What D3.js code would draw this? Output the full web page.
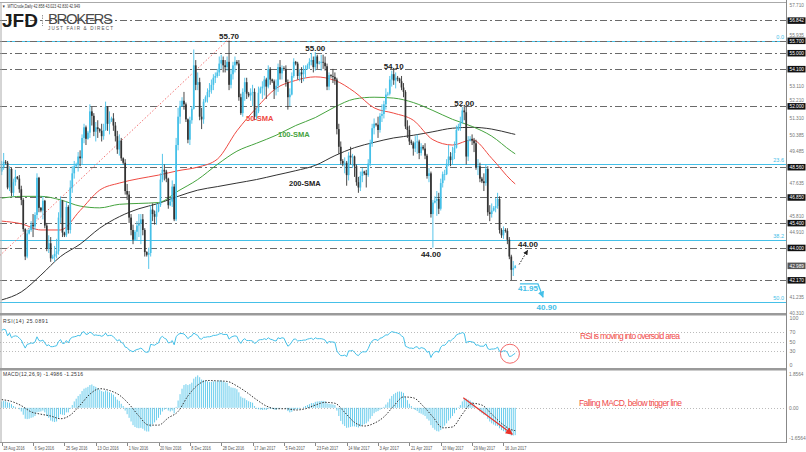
<!DOCTYPE html>
<html><head><meta charset="utf-8">
<script src="https://cdn.jsdelivr.net/npm/d3@7"></script>
<style>
body{margin:0;background:#fff}
svg{display:block}
text{font-family:"Liberation Sans",Arial,sans-serif}
</style></head>
<body><svg id="c" width="806" height="452"></svg>
<script>
// ---------------- DATA ----------------
const firstOpen = 48.3;
const closes = [
48.55,48.85,48.8,47.4,48.45,47.1,47.7,48.0,47.9,47.3,
46.7,45.05,43.5,44.8,45.0,45.3,45.2,45.85,47.95,46.25,
46.1,46.65,45.25,43.95,44.25,43.4,43.5,43.65,43.8,45.7,
46.65,44.85,44.7,46.3,45.0,47.4,48.2,48.6,48.7,49.15,
49.05,50.2,50.8,50.15,50.5,51.7,51.45,50.55,50.8,50.7,
50.6,50.3,50.65,51.95,51.0,51.2,51.3,50.9,50.3,49.55,
50.05,49.05,48.8,47.2,47.0,45.7,45.0,44.45,44.9,45.25,
45.35,45.6,45.0,43.75,43.6,43.7,46.15,45.9,45.75,46.05,
46.4,47.85,48.4,48.3,47.9,46.4,46.6,47.45,45.6,49.8,
51.4,52.0,52.3,52.1,51.25,50.1,51.2,51.85,54.3,53.2,
53.35,51.4,51.25,52.25,52.5,52.8,52.9,53.2,53.6,53.7,
53.9,54.4,54.6,54.3,54.2,54.5,53.2,53.8,54.3,54.5,
54.4,52.5,51.6,52.8,53.35,52.7,52.6,52.75,52.8,51.4,
51.7,52.75,53.0,53.1,53.5,53.1,54.1,53.5,53.4,52.95,
53.15,54.2,53.85,54.15,54.1,53.35,52.5,52.65,53.7,54.5,
54.4,53.7,53.9,53.8,54.05,54.1,54.3,54.5,54.6,54.2,
54.8,54.4,54.45,54.5,54.45,54.25,53.1,53.75,53.7,53.65,
53.5,50.7,49.7,48.9,48.75,48.8,48.1,49.2,49.1,49.15,
48.6,47.7,47.4,48.05,48.3,48.2,48.1,48.75,49.9,50.75,
51.0,50.95,50.65,51.45,51.55,52.1,52.65,52.7,53.5,53.8,
53.45,53.6,53.55,53.4,53.05,52.8,50.85,50.65,50.0,49.9,
49.6,49.95,50.0,49.35,49.7,49.6,49.2,48.05,48.2,45.9,
46.55,46.65,46.75,46.2,47.65,48.15,48.15,48.75,49.15,48.95,
49.35,49.65,50.65,50.85,51.05,51.75,51.65,49.15,50.05,50.15,
50.05,49.9,48.55,48.6,47.9,47.75,47.65,48.45,46.0,45.9,
46.1,46.25,46.35,46.75,45.0,44.7,45.0,44.95,44.45,43.5,
42.75,42.858,42.949];
const highs = [
48.9,49.35,48.95,48.9,48.6,48.5,47.9,48.4,48.05,48.1,
47.5,46.8,45.1,45.0,45.1,45.5,45.9,46.0,48.2,48.0,
46.3,46.9,46.7,45.4,44.7,44.6,43.6,44.1,44.5,46.0,
46.9,46.7,44.9,46.6,46.4,47.8,48.6,48.9,48.8,49.4,
49.5,50.4,51.0,50.9,50.6,52.1,51.95,51.6,51.1,51.2,
50.75,51.0,51.0,52.25,52.0,51.7,51.4,51.6,51.1,50.6,
50.4,50.2,49.1,49.0,47.6,47.2,45.9,45.3,45.0,45.5,
45.9,45.9,45.9,45.1,43.8,44.0,46.4,46.5,46.1,46.5,
46.5,48.2,49.3,48.7,48.4,47.95,46.8,47.8,47.6,50.2,
51.9,52.3,52.5,52.8,52.2,51.3,51.4,52.0,55.2,54.6,
53.9,53.6,51.9,52.4,52.6,53.0,53.3,53.5,53.8,53.9,
54.1,54.8,54.9,54.8,54.6,54.8,55.7,54.1,54.5,54.8,
54.6,54.6,52.7,53.0,53.6,53.6,52.8,53.0,53.2,53.0,
51.9,53.1,53.1,53.4,53.7,53.6,54.3,54.2,53.55,53.5,
53.5,54.4,54.6,54.3,54.25,54.3,53.5,53.0,53.9,54.7,
54.55,54.5,54.1,54.2,54.3,54.3,54.4,54.7,55.0,54.8,
55.05,54.9,54.55,54.9,54.9,54.8,54.4,53.9,53.8,54.1,
53.9,53.6,51.0,50.0,49.0,49.1,48.9,49.4,49.7,49.3,
49.2,48.7,48.0,48.3,48.5,48.35,48.4,49.0,50.1,51.0,
51.3,51.05,51.4,51.6,52.1,52.3,53.0,52.8,53.7,54.0,
54.1,53.9,53.7,53.6,53.7,53.3,52.9,51.2,50.9,50.1,
50.0,50.3,50.4,50.1,49.9,49.8,49.9,49.3,48.5,48.3,
46.7,46.9,47.2,47.1,47.9,48.3,48.4,49.0,49.8,49.4,
49.7,50.0,50.9,51.0,51.4,51.95,52.0,52.0,50.3,50.3,
50.4,50.2,50.1,49.0,48.8,48.0,48.2,48.7,48.6,46.4,
46.5,46.35,46.8,47.1,46.9,45.1,45.2,45.1,45.1,44.6,
43.6,43.25,43.023];
const lows = [
48.1,48.4,48.7,47.3,47.2,46.9,46.9,47.5,47.85,47.1,
46.4,44.9,43.3,43.4,44.75,44.9,44.6,45.0,45.6,46.0,
46.0,45.6,45.1,43.8,43.7,43.2,43.35,43.2,43.4,43.6,
45.4,44.6,44.6,44.6,44.8,44.8,47.1,47.9,48.55,48.3,
48.6,48.7,49.9,49.8,50.1,50.2,50.9,50.3,50.0,50.2,
50.5,50.0,50.1,50.6,50.6,50.4,51.1,50.6,50.0,49.3,
49.2,48.9,48.7,47.0,46.7,45.4,44.7,44.2,44.4,44.4,
44.6,44.2,44.7,43.5,43.5,42.8,43.5,45.5,45.3,45.3,
46.0,46.3,47.7,47.8,47.7,46.2,46.35,46.3,45.5,45.5,
49.5,51.0,51.95,51.8,51.1,49.9,49.8,51.0,51.8,52.9,
52.9,51.2,50.7,51.0,52.2,52.2,52.5,52.7,52.9,53.3,
53.6,53.7,54.1,53.9,53.9,54.0,52.9,53.0,53.5,53.9,
54.3,52.3,51.5,51.4,52.3,52.4,52.5,52.3,52.0,51.2,
51.2,51.6,52.7,52.4,52.6,52.4,53.0,53.2,53.3,52.4,
52.6,52.8,53.5,53.5,54.0,53.1,51.8,52.0,52.6,53.6,
54.3,53.5,53.4,53.3,53.4,53.6,54.05,54.1,54.3,53.9,
54.0,54.1,54.35,54.0,54.1,54.0,52.9,52.9,53.6,53.3,
53.2,50.4,49.3,48.7,48.6,48.2,47.5,47.8,48.7,48.5,
48.0,47.5,47.1,47.2,47.7,48.1,47.4,48.0,48.6,49.7,
50.4,50.85,50.2,50.5,51.1,51.3,51.8,52.55,52.6,53.1,
53.2,53.0,53.4,53.3,52.9,52.5,50.7,50.2,49.8,49.8,
49.2,49.4,49.3,49.0,49.2,49.5,49.0,47.9,47.7,45.7,
44.0,46.5,45.8,45.9,46.1,47.4,47.8,48.1,48.6,48.6,
48.7,49.0,49.6,50.6,50.6,51.0,51.2,48.7,48.9,50.0,
49.8,49.4,48.4,48.1,47.7,47.65,47.2,47.5,45.8,45.5,
45.7,46.05,46.0,46.2,44.8,44.55,44.5,44.85,44.2,43.35,
42.17,42.4,42.83];

// moving averages read at every 10th bar
const smaIdx = [0,10,20,30,40,50,60,70,80,90,100,110,120,130,140,150,160,170,180,190,200,210,220,230,240,250,260,262];
const sma50  = [45.5,45.35,45.0,45.0,46.1,47.25,47.65,47.9,48.1,48.35,48.55,49.0,50.6,51.9,53.0,53.45,53.65,53.45,52.8,51.9,51.6,51.2,50.1,49.8,50.1,49.05,47.8,47.6];
const sma100 = [46.8,46.9,46.9,46.7,46.35,46.25,46.45,46.5,46.55,47.2,47.85,48.7,49.45,49.9,50.35,50.9,51.35,51.95,52.4,52.5,52.45,52.2,51.75,51.25,50.85,50.3,49.45,49.3];
const sma200 = [41.05,41.5,42.45,43.5,44.2,45.1,45.75,46.2,46.5,46.9,47.25,47.45,47.65,47.85,48.1,48.35,48.65,49.2,49.65,49.95,50.2,50.35,50.55,50.75,50.8,50.7,50.45,50.4];

const rsi = [
74,76,75,62,68,58,61,62,61,57,
53,44,36,44,45,47,46,49,60,52,
51,53,47,41,43,39,39,40,41,50,
54,46,46,52,47,56,59,60,61,63,
62,69,71,65,66,70,68,63,64,63,
63,61,63,68,62,63,63,60,56,51,
54,48,46,38,37,32,30,28,31,33,
34,36,33,28,27,28,44,43,42,45,
47,58,61,57,55,47,48,52,43,60,
65,67,67,66,62,56,60,62,68,65,
63,56,55,59,59,60,60,61,63,63,
64,66,67,65,65,65,55,59,61,62,
61,51,46,53,56,52,52,52,51,46,
48,53,54,54,56,54,58,55,54,52,
51,58,56,58,57,48,40,43,49,55,
55,51,52,52,53,53,55,56,57,54,
58,56,56,56,55,53,46,50,49,49,
48,30,24,20,20,21,18,30,30,31,
27,22,20,25,28,28,28,35,45,51,
54,54,52,57,58,61,64,64,68,71,
70,69,68,66,62,59,40,38,36,36,
35,38,39,34,37,36,34,27,29,16,
24,28,29,27,38,42,42,46,52,51,
55,58,64,66,67,69,67,47,50,50,
49,48,42,43,40,40,40,45,35,33,
34,34,35,38,29,28,30,30,27,18,
19,22,25];

const macd = [
0.35,0.38,0.36,0.3,0.28,0.2,0.1,0.05,0.0,-0.08,
-0.2,-0.38,-0.6,-0.62,-0.6,-0.55,-0.52,-0.45,-0.25,-0.22,
-0.2,-0.15,-0.25,-0.45,-0.55,-0.7,-0.75,-0.78,-0.75,-0.55,
-0.35,-0.38,-0.4,-0.25,-0.25,-0.05,0.15,0.35,0.5,0.65,
0.75,0.92,1.05,1.1,1.15,1.25,1.28,1.2,1.15,1.08,
1.0,0.92,0.88,0.95,0.9,0.85,0.8,0.72,0.6,0.45,
0.38,0.22,0.1,-0.15,-0.35,-0.55,-0.75,-0.95,-1.05,-1.1,
-1.12,-1.1,-1.15,-1.25,-1.3,-1.3,-1.05,-0.9,-0.8,-0.68,
-0.55,-0.38,-0.2,-0.1,-0.05,-0.15,-0.2,-0.15,-0.3,0.05,
0.4,0.75,1.05,1.25,1.3,1.25,1.3,1.38,1.6,1.7,
1.78,1.68,1.55,1.52,1.48,1.45,1.42,1.42,1.45,1.45,
1.46,1.5,1.5,1.45,1.4,1.38,1.2,1.12,1.1,1.08,
1.02,0.85,0.62,0.55,0.52,0.42,0.36,0.32,0.28,0.1,
-0.05,-0.08,-0.1,-0.12,-0.1,-0.12,-0.05,-0.05,-0.06,-0.1,
-0.12,-0.05,-0.03,0.0,0.0,-0.05,-0.18,-0.25,-0.22,-0.12,
-0.08,-0.08,-0.05,0.0,0.05,0.1,0.15,0.2,0.26,0.26,
0.33,0.35,0.36,0.38,0.38,0.36,0.25,0.22,0.2,0.18,
0.15,-0.15,-0.45,-0.72,-0.9,-1.0,-1.1,-1.08,-1.05,-1.02,
-1.02,-1.05,-1.08,-1.02,-0.95,-0.9,-0.85,-0.75,-0.6,-0.45,
-0.3,-0.22,-0.18,-0.1,-0.05,0.05,0.18,0.3,0.5,0.65,
0.75,0.82,0.88,0.9,0.88,0.82,0.6,0.42,0.22,0.1,
-0.05,-0.12,-0.18,-0.28,-0.32,-0.38,-0.45,-0.6,-0.7,-0.95,
-1.1,-1.2,-1.28,-1.3,-1.22,-1.1,-0.98,-0.85,-0.7,-0.58,
-0.45,-0.3,-0.12,0.02,0.15,0.35,0.48,0.5,0.45,0.4,
0.32,0.2,0.05,-0.08,-0.2,-0.3,-0.38,-0.4,-0.6,-0.75,
-0.85,-0.92,-0.98,-1.0,-1.12,-1.22,-1.28,-1.32,-1.38,-1.45,
-1.52,-1.52,-1.4986];

const sigIdx = [0,5,10,15,20,25,30,35,40,45,50,55,60,65,70,75,80,85,90,95,100,105,110,115,120,125,130,135,140,145,150,155,160,165,170,175,180,185,190,195,200,205,210,215,220,225,230,235,240,245,250,255,260,262];
const signal = [0.45,0.35,0.12,-0.22,-0.35,-0.45,-0.6,-0.4,0.15,0.75,1.05,0.95,0.7,0.2,-0.45,-0.95,-0.95,-0.55,-0.2,0.65,1.25,1.5,1.48,1.45,1.2,0.85,0.45,0.1,-0.05,-0.05,-0.12,-0.05,0.15,0.3,0.25,-0.25,-0.8,-1.0,-0.85,-0.5,0.1,0.6,0.55,0.1,-0.5,-1.1,-1.05,-0.35,0.25,0.15,-0.35,-0.85,-1.2,-1.2516];

const dateIdx = [0,16,32,48,64,80,96,112,128,144,160,176,192,208,224,240,256];
const dateLabels = ["18 Aug 2016","6 Sep 2016","25 Sep 2016","13 Oct 2016","1 Nov 2016","20 Nov 2016","8 Dec 2016","28 Dec 2016","17 Jan 2017","5 Feb 2017","23 Feb 2017","14 Mar 2017","3 Apr 2017","21 Apr 2017","10 May 2017","29 May 2017","16 Jun 2017"];

const levels = [56.842,55.700,55.000,54.100,52.000,48.560,46.850,45.400,44.000,42.170];
const priceTicks = [57.710,55.935,53.110,52.210,51.310,50.385,49.485,47.635,45.810,44.910,41.235,40.310];
const fibLevels = [55.70,48.73,44.42,40.93];
const fibNames = ["0.0","23.6","38.2","50.0"];
const currentPrice = 42.989;
const rsiTicks = [100,70,50,30,0];
const rsiLevels = [70,50,30];
const macdTicks = [1.8564,0,-1.6564];
const macdTickText = ["1.8564","0.00","-1.6564"];

const peakLabels = [
  {t:"55.70", i:116, p:55.70, dy:-2},
  {t:"55.00", i:160, p:55.05, dy:-1},
  {t:"54.10", i:200, p:54.10, dy:0},
  {t:"52.00", i:236, p:52.00, dy:0},
  {t:"44.00", i:219, p:44.00, dy:9},
  {t:"44.00", i:268.5, p:44.00, dy:-1}
];

// ---------------- SCALES ----------------
const svg = d3.select('#c');
const x = d3.scaleLinear().domain([0,400]).range([1.7,785.7]);
const yP = d3.scaleLinear().domain([40.31,57.71]).range([313,5]);
const yR = d3.scaleLinear().domain([0,100]).range([365,318]);
const yM = d3.scaleLinear().domain([-1.6564,1.8564]).range([438,374]);
const AX = 786.5;
const bull = "#45c0e8", bear = "#333333", cyan = "#45c0e8";

const defs = svg.append('defs');
[['cm',3,313],['cr',315.5,368],['cmd',370.5,442]].forEach(([id,y0,y1])=>{
  defs.append('clipPath').attr('id',id).append('rect').attr('x',0).attr('y',y0).attr('width',AX).attr('height',y1-y0);
});
function marker(id,color,size){
  defs.append('marker').attr('id',id).attr('viewBox','0 0 10 10').attr('refX',9).attr('refY',5)
    .attr('markerWidth',size).attr('markerHeight',size).attr('orient','auto-start-reverse')
    .append('path').attr('d','M0,0 L10,5 L0,10 z').attr('fill',color);
}
marker('arRed','#e8322a',6);
marker('arCyan',cyan,5);
marker('arBlk','#222',5);

svg.append('rect').attr('width',806).attr('height',452).attr('fill','#fff');

// ---------------- MAIN PANEL ----------------
const main = svg.append('g').attr('clip-path','url(#cm)');
main.selectAll('.fib').data(fibLevels).join('line')
  .attr('x1',0).attr('x2',AX).attr('y1',d=>Math.round(yP(d))+0.5).attr('y2',d=>Math.round(yP(d))+0.5)
  .attr('stroke',cyan).attr('stroke-width',1.2);
main.selectAll('.lvl').data(levels).join('line')
  .attr('x1',0).attr('x2',AX).attr('y1',d=>Math.round(yP(d))+0.5).attr('y2',d=>Math.round(yP(d))+0.5)
  .attr('stroke','#6a6a6a').attr('stroke-width',1).attr('stroke-dasharray','7,3,2,3');
main.append('line').attr('x1',x(-1)).attr('y1',yP(43.55)).attr('x2',x(115.5)).attr('y2',yP(55.75))
  .attr('stroke','#f07070').attr('stroke-width',1).attr('stroke-dasharray','1.5,2');
const smaLine = arr => d3.line().x((d,k)=>x(smaIdx[k])).y(d=>yP(d)).curve(d3.curveMonotoneX)(arr);
[[sma200,'#333'],[sma100,'#45a33e'],[sma50,'#ee4a42']].forEach(([a,c])=>{
  main.append('path').attr('d',smaLine(a)).attr('fill','none').attr('stroke',c).attr('stroke-width',1);
});
const bars = closes.map((c,i)=>({i, o: i ? closes[i-1] : firstOpen, h: highs[i], l: lows[i], c}));
const gc = main.append('g');
gc.selectAll('line').data(bars).join('line')
  .attr('x1',d=>x(d.i)).attr('x2',d=>x(d.i))
  .attr('y1',d=>yP(Math.max(d.h,d.o,d.c))).attr('y2',d=>yP(Math.min(d.l,d.o,d.c)))
  .attr('stroke',d=>d.c>=d.o?bull:bear).attr('stroke-width',0.9);
gc.selectAll('rect').data(bars).join('rect')
  .attr('x',d=>x(d.i)-0.85).attr('width',1.7)
  .attr('y',d=>yP(Math.max(d.o,d.c)))
  .attr('height',d=>Math.max(0.7,Math.abs(yP(d.o)-yP(d.c))))
  .attr('fill',d=>d.c>=d.o?bull:bear);

svg.selectAll('.pk').data(peakLabels).join('text')
  .attr('x',d=>x(d.i)).attr('y',d=>yP(d.p)+d.dy).attr('text-anchor','middle')
  .attr('font-size',8).attr('font-weight','bold').attr('fill','#222').text(d=>d.t);
[["50-SMA",246,121,'#ee4a42'],["100-SMA",278,137,'#45a33e'],["200-SMA",289,186,'#222']].forEach(([t,tx,ty,c])=>{
  svg.append('text').attr('x',tx).attr('y',ty).attr('font-size',7.5).attr('font-weight','bold').attr('fill',c).text(t);
});
svg.append('path').attr('d',d3.line()([[x(264.4),yP(41.95)],[x(273.6),yP(41.95)],[x(276.2),yP(41.2)]]))
  .attr('fill','none').attr('stroke',cyan).attr('stroke-width',1.3).attr('marker-end','url(#arCyan)');
svg.append('text').attr('x',x(268.5)).attr('y',yP(41.95)+7).attr('text-anchor','middle').attr('font-size',8).attr('font-weight','bold').attr('fill',cyan).text("41.95");
svg.append('text').attr('x',x(278)).attr('y',yP(40.93)+7.5).attr('text-anchor','middle').attr('font-size',8).attr('font-weight','bold').attr('fill',cyan).text("40.90");
svg.append('line').attr('x1',x(264)).attr('y1',yP(43.05)).attr('x2',x(268.3)).attr('y2',yP(43.85))
  .attr('stroke','#222').attr('stroke-width',1).attr('stroke-dasharray','1.5,1.5').attr('marker-end','url(#arBlk)');
svg.selectAll('.fl').data(fibLevels).join('text')
  .attr('x',784).attr('y',d=>yP(d)-2).attr('text-anchor','end').attr('font-size',5.5).attr('fill',cyan)
  .text((d,k)=>fibNames[k]);

// ---------------- RSI PANEL ----------------
const rg = svg.append('g').attr('clip-path','url(#cr)');
rg.selectAll('line').data(rsiLevels).join('line')
  .attr('x1',0).attr('x2',AX).attr('y1',d=>Math.round(yR(d))+0.5).attr('y2',d=>Math.round(yR(d))+0.5)
  .attr('stroke','#bbb').attr('stroke-dasharray','1,2');
rg.append('path').attr('d',d3.line().x((d,i)=>x(i)).y(d=>yR(d))(rsi))
  .attr('fill','none').attr('stroke',cyan).attr('stroke-width',1);
svg.append('circle').attr('cx',x(259.3)).attr('cy',yR(24)).attr('r',9.5).attr('fill','none').attr('stroke','#f05a5a').attr('stroke-width',0.9);
svg.append('text').attr('x',3).attr('y',323).attr('font-size',5).attr('fill','#333').attr('textLength',45).text('RSI(14) 25.0891');
svg.append('text').attr('x',580).attr('y',339).attr('font-size',8.5).attr('fill','#f04a4a').attr('textLength',100).text('RSI is moving into oversold area');

// ---------------- MACD PANEL ----------------
const mg = svg.append('g').attr('clip-path','url(#cmd)');
mg.append('line').attr('x1',0).attr('x2',AX).attr('y1',Math.round(yM(0))+0.5).attr('y2',Math.round(yM(0))+0.5)
  .attr('stroke','#bbb').attr('stroke-dasharray','1,2');
mg.selectAll('.hb').data(macd).join('line')
  .attr('x1',(d,i)=>x(i)).attr('x2',(d,i)=>x(i)).attr('y1',yM(0)).attr('y2',d=>yM(d))
  .attr('stroke',cyan).attr('stroke-width',0.8);
mg.append('path').attr('d',d3.line().x((d,k)=>x(sigIdx[k])).y(d=>yM(d)).curve(d3.curveMonotoneX)(signal))
  .attr('fill','none').attr('stroke','#333').attr('stroke-width',1).attr('stroke-dasharray','1.5,1.5');
svg.append('line').attr('x1',x(235.5)).attr('y1',yM(0.55)).attr('x2',x(260.5)).attr('y2',yM(-1.45))
  .attr('stroke','#e8322a').attr('stroke-width',1.2).attr('marker-end','url(#arRed)');
svg.append('text').attr('x',3).attr('y',376).attr('font-size',5).attr('fill','#333').attr('textLength',80).text('MACD(12,26,9) -1.4986 -1.2516');
svg.append('text').attr('x',579).attr('y',406).attr('font-size',8.5).attr('fill','#f04a4a').attr('textLength',103).text('Falling MACD, below trigger line');

// ---------------- FRAMES & AXES ----------------
svg.append('line').attr('x1',0).attr('x2',AX).attr('y1',2.5).attr('y2',2.5).attr('stroke','#aaa');
svg.append('line').attr('x1',1).attr('x2',1).attr('y1',2).attr('y2',442).attr('stroke','#aaa');
svg.append('rect').attr('x',0).attr('y',313).attr('width',AX).attr('height',2.5).attr('fill','#9a9a9a');
svg.append('rect').attr('x',0).attr('y',368).attr('width',AX).attr('height',2.5).attr('fill','#9a9a9a');
svg.append('line').attr('x1',0).attr('x2',AX).attr('y1',442.5).attr('y2',442.5).attr('stroke','#999');
svg.append('line').attr('x1',AX).attr('x2',AX).attr('y1',0).attr('y2',443).attr('stroke','#888');

// plain ticks: nudged up when a boxed level label sits just below
const boxVals = levels.concat([currentPrice]);
svg.selectAll('.pt').data(priceTicks).join('text')
  .attr('x',789.5)
  .attr('y',d=>{
    const near = boxVals.find(b=>yP(b)-yP(d)>0 && yP(b)-yP(d)<7);
    return near!==undefined ? yP(near)-4 : yP(d)+2;
  })
  .attr('font-size',5.3).attr('fill','#777')
  .attr('textLength',14.5).attr('lengthAdjust','spacingAndGlyphs').text(d=>d.toFixed(3));
const boxes = levels.map(v=>({v,c:'#111'})).concat([{v:currentPrice,c:'#555'}]);
const bg = svg.selectAll('.bx').data(boxes).join('g');
bg.append('rect').attr('x',787.5).attr('y',d=>yP(d.v)-3).attr('width',18).attr('height',6.5).attr('fill',d=>d.c);
bg.append('text').attr('x',789.5).attr('y',d=>yP(d.v)+2.1).attr('font-size',5.2).attr('fill','#fff')
  .attr('textLength',14.5).attr('lengthAdjust','spacingAndGlyphs').text(d=>d.v.toFixed(3));
svg.selectAll('.rt').data(rsiTicks).join('text')
  .attr('x',789.5).attr('y',d=>yR(d)+2).attr('font-size',5.3).attr('fill','#777').text(d=>d);
svg.selectAll('.mt').data(macdTicks).join('text')
  .attr('x',789).attr('y',d=>yM(d)+2).attr('font-size',5.3).attr('fill','#777')
  .attr('textLength',(d,k)=>macdTickText[k].length*2.4).attr('lengthAdjust','spacingAndGlyphs')
  .text((d,k)=>macdTickText[k]);

svg.selectAll('.dt').data(dateIdx).join('line')
  .attr('x1',d=>Math.round(x(d))+0.5).attr('x2',d=>Math.round(x(d))+0.5).attr('y1',443).attr('y2',446).attr('stroke','#888');
svg.selectAll('.dl').data(dateIdx).join('text')
  .attr('x',d=>x(d)+1.5).attr('y',450).attr('font-size',5.3).attr('fill','#555')
  .attr('textLength',(d,k)=>dateLabels[k].length*1.95).attr('lengthAdjust','spacingAndGlyphs')
  .text((d,k)=>dateLabels[k]);

// ---------------- TITLE / LOGO ----------------
svg.append('text').attr('x',2).attr('y',8).attr('font-size',4.6).attr('fill','#333').attr('textLength',78)
  .attr('lengthAdjust','spacingAndGlyphs').text('▼ .WTICrude,Daily 42.858 43.023 42.830 42.949');
svg.append('text').attr('x',2).attr('y',27).attr('font-size',19).attr('font-weight','bold').attr('fill','#1c1c1c').text('JFD');
svg.append('line').attr('x1',42.5).attr('x2',42.5).attr('y1',15).attr('y2',26).attr('stroke','#999').attr('stroke-dasharray','1.5,1');
svg.append('text').attr('x',48).attr('y',24).attr('font-size',15).attr('fill','#4a4a4a')
  .attr('font-family','"Liberation Serif",serif').attr('textLength',65).text('BROKERS');
svg.append('text').attr('x',48).attr('y',29.5).attr('font-size',4.6).attr('fill','#555')
  .attr('font-family','"Liberation Serif",serif').attr('textLength',65).text('JUST FAIR & DIRECT');
</script>
</body></html>
